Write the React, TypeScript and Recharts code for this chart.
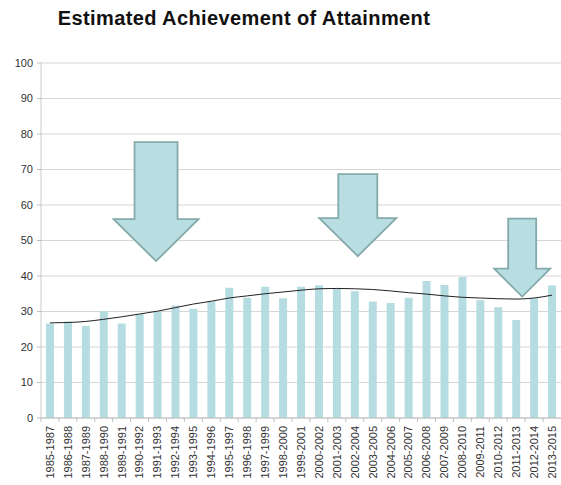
import React from 'react';
import { ComposedChart, Bar, Line, XAxis, YAxis, CartesianGrid, ReferenceDot } from 'recharts';

const periods = [
  '1985-1987', '1986-1988', '1987-1989', '1988-1990', '1989-1991', '1990-1992', '1991-1993',
  '1992-1994', '1993-1995', '1994-1996', '1995-1997', '1996-1998', '1997-1999', '1998-2000',
  '1999-2001', '2000-2002', '2001-2003', '2002-2004', '2003-2005', '2004-2006', '2005-2007',
  '2006-2008', '2007-2009', '2008-2010', '2009-2011', '2010-2012', '2011-2013', '2012-2014',
  '2013-2015',
];

const attainment = [
  26.6, 27.2, 25.9, 30.1, 26.6, 29.3, 30.1, 31.7, 30.8, 32.9, 36.7, 33.9, 37.0, 33.7,
  37.0, 37.4, 36.4, 35.7, 32.8, 32.4, 33.9, 38.6, 37.5, 39.7, 33.2, 31.2, 27.6, 33.7, 37.3,
];

const trend = [
  26.8, 26.9, 27.2, 27.8, 28.5, 29.3, 30.1, 31.1, 32.1, 32.9, 33.8, 34.4, 35.0, 35.5,
  36.0, 36.4, 36.5, 36.4, 36.2, 35.8, 35.3, 34.9, 34.4, 34.0, 33.8, 33.6, 33.5, 33.8, 34.6,
];

const yTicks = [0, 10, 20, 30, 40, 50, 60, 70, 80, 90, 100];

// down arrows: where the tip points (category, value)
const arrowAt = ['1991-1993', '2002-2004', '2011-2013'];
const arrowTip = [44.2, 45.6, 34.2];

const arrowStyle = [
  { dx: -1.5, shaftW: 43, shaftH: 77, headW: 85, headH: 42 },
  { dx: 3, shaftW: 39, shaftH: 44, headW: 77, headH: 38 },
  { dx: 6, shaftW: 28, shaftH: 50, headW: 56, headH: 28 },
];

const data = periods.map((p, i) => ({ period: p, value: attainment[i], trend: trend[i] }));

const FONT = '"Liberation Sans", Arial, sans-serif';

const makeArrow = (s: typeof arrowStyle[number]) => (props: any) => {
  const { cx, cy } = props;
  const x = cx + s.dx;
  const baseY = cy - s.headH;
  const topY = baseY - s.shaftH;
  const pts = [
    [x - s.shaftW / 2, topY],
    [x + s.shaftW / 2, topY],
    [x + s.shaftW / 2, baseY],
    [x + s.headW / 2, baseY],
    [x, cy],
    [x - s.headW / 2, baseY],
    [x - s.shaftW / 2, baseY],
  ].map((p) => p.join(',')).join(' ');
  return <polygon points={pts} fill="#b8dee2" stroke="#84a9ab" strokeWidth={1.8} />;
};

const XTick = (props: any) => {
  const { x, y, payload } = props;
  return (
    <g transform={`translate(${x},${y})`}>
      <line x1={-9} y1={-8} x2={-9} y2={-4} stroke="#bfbfbf" />
      <text transform="rotate(-90)" textAnchor="end" dy="0.35em" fontSize={11} fill="#333" fontFamily={FONT}>
        {payload.value}
      </text>
    </g>
  );
};

export default function App() {
  return (
    <div style={{ position: 'absolute', left: 0, top: 0, width: 561, height: 485, background: '#fff' }}>
      <div
        style={{
          position: 'absolute',
          left: 0,
          top: 7,
          width: 488,
          textAlign: 'center',
          fontFamily: FONT,
          fontWeight: 'bold',
          fontSize: 20,
          letterSpacing: 0.4,
          color: '#111',
        }}
      >
        Estimated Achievement of Attainment
      </div>
      <ComposedChart width={561} height={485} data={data} margin={{ top: 63, right: 0, bottom: 0, left: 0 }}>
        <CartesianGrid vertical={false} stroke="#d6d6d6" strokeWidth={1.2} />
        <XAxis
          dataKey="period"
          interval={0}
          height={67}
          tick={<XTick />}
          tickLine={false}
          tickMargin={0}
          tickSize={8}
          axisLine={{ stroke: '#bfbfbf' }}
        />
        <YAxis
          domain={[0, 100]}
          ticks={yTicks}
          width={41}
          tickSize={4}
          tickMargin={4}
          axisLine={{ stroke: '#cccccc' }}
          tickLine={{ stroke: '#bfbfbf' }}
          tick={{ fontSize: 11, fill: '#333', fontFamily: FONT }}
        />
        <Bar dataKey="value" fill="#b5dde1" barSize={8} isAnimationActive={false} />
        <Line
          dataKey="trend"
          type="monotone"
          stroke="#222"
          strokeWidth={1}
          dot={false}
          isAnimationActive={false}
        />
        {arrowAt.map((cat, i) => (
          <ReferenceDot
            key={cat}
            x={cat}
            y={arrowTip[i]}
            ifOverflow="visible"
            shape={makeArrow(arrowStyle[i])}
          />
        ))}
      </ComposedChart>
    </div>
  );
}
